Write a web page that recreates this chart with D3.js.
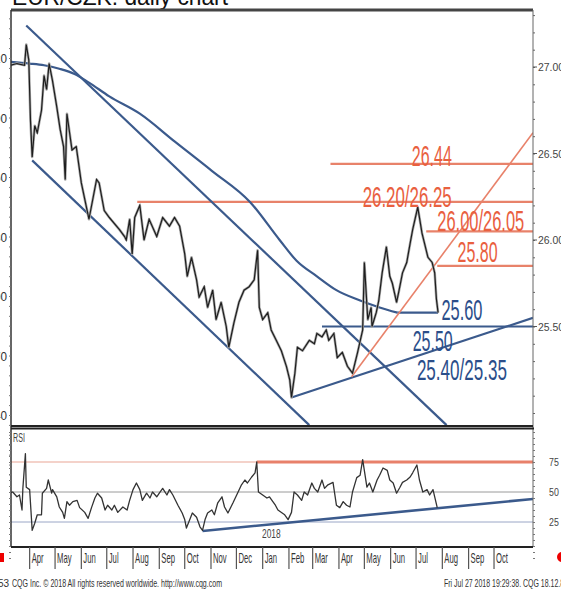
<!DOCTYPE html>
<html><head><meta charset="utf-8">
<script src="https://cdn.jsdelivr.net/npm/d3@7"></script>
<style>body{margin:0;background:#fff}svg{display:block}</style>
</head><body><svg id="c" width="561" height="593"></svg>
<script>
// ---------- DATA ----------
const title = "EUR/CZK: daily chart";
const monthLabels = ["Apr","May","Jun","Jul","Aug","Sep","Oct","Nov","Dec","Jan","Feb","Mar","Apr","May","Jun","Jul","Aug","Sep","Oct"];
const priceTicks = [27.0, 26.5, 26.0, 25.5];
const priceTickLabels = ["27.00","26.50","26.00","25.50"];
const leftTicks = [27.2, 26.9, 26.6, 26.3, 26.0, 25.7, 25.4];
const leftTickLabels = ["27.20","26.90","26.60","26.30","26.00","25.70","25.40"];
const rsiTicks = [75, 50, 25];
const rsiTickLabels = ["75","50","25"];

const price = [
["2017-03-09",27.01],["2017-03-17",27.02],["2017-03-26",27.01],["2017-03-28",27.13],["2017-03-31",27.04],
["2017-04-02",26.69],["2017-04-04",26.48],["2017-04-07",26.66],["2017-04-10",26.62],["2017-04-15",26.75],
["2017-04-18",26.95],["2017-04-21",26.87],["2017-04-24",27.02],["2017-04-28",26.92],["2017-05-03",26.77],
["2017-05-07",26.64],["2017-05-11",26.54],["2017-05-13",26.35],["2017-05-15",26.73],["2017-05-21",26.52],
["2017-05-26",26.54],["2017-06-01",26.33],["2017-06-07",26.19],["2017-06-10",26.12],["2017-06-19",26.35],
["2017-06-22",26.33],["2017-06-28",26.17],["2017-07-04",26.13],["2017-07-16",26.06],["2017-07-22",26.02],
["2017-07-24",26.00],["2017-07-28",26.12],["2017-07-31",25.92],["2017-08-03",26.13],["2017-08-09",26.20],
["2017-08-14",26.00],["2017-08-20",26.12],["2017-08-29",26.02],["2017-09-05",26.13],["2017-09-13",26.08],
["2017-09-19",26.13],["2017-09-25",26.08],["2017-10-01",25.92],["2017-10-04",25.79],["2017-10-09",25.90],
["2017-10-15",25.77],["2017-10-18",25.67],["2017-10-24",25.73],["2017-10-28",25.61],["2017-11-03",25.71],
["2017-11-07",25.54],["2017-11-13",25.64],["2017-11-19",25.50],["2017-11-22",25.38],["2017-11-28",25.52],
["2017-12-04",25.64],["2017-12-10",25.71],["2017-12-16",25.73],["2017-12-22",25.77],["2017-12-26",25.94],
["2017-12-28",25.61],["2018-01-01",25.54],["2018-01-07",25.58],["2018-01-11",25.48],["2018-01-17",25.42],
["2018-01-23",25.36],["2018-01-29",25.27],["2018-02-02",25.19],["2018-02-04",25.09],["2018-02-08",25.23],
["2018-02-11",25.38],["2018-02-17",25.36],["2018-02-25",25.42],["2018-03-03",25.40],["2018-03-06",25.46],
["2018-03-12",25.44],["2018-03-17",25.48],["2018-03-20",25.42],["2018-03-26",25.46],["2018-03-30",25.32],
["2018-04-05",25.35],["2018-04-11",25.27],["2018-04-17",25.23],["2018-04-23",25.35],["2018-04-29",25.48],
["2018-05-01",25.87],["2018-05-05",25.54],["2018-05-09",25.61],["2018-05-10",25.50],["2018-05-15",25.58],
["2018-05-18",25.65],["2018-05-22",25.81],["2018-05-27",25.96],["2018-05-31",25.79],["2018-06-03",25.75],
["2018-06-08",25.64],["2018-06-11",25.71],["2018-06-15",25.81],["2018-06-20",25.87],["2018-06-24",25.98],
["2018-06-27",26.06],["2018-07-03",26.19],["2018-07-08",26.04],["2018-07-11",25.98],["2018-07-15",25.90],
["2018-07-20",25.87],["2018-07-23",25.81],["2018-07-25",25.66],["2018-07-27",25.58]
];

const movingAvg = [
["2017-03-09",27.03],["2017-04-01",27.02],["2017-04-18",27.01],["2017-05-06",26.99],["2017-05-24",26.96],
["2017-06-10",26.91],["2017-07-04",26.83],["2017-08-09",26.73],["2017-09-19",26.57],["2017-11-02",26.40],
["2017-12-17",26.22],["2018-01-21",26.00],["2018-02-10",25.88],["2018-03-06",25.79],["2018-03-29",25.71],
["2018-04-26",25.65],["2018-05-19",25.61],["2018-06-09",25.58]
];

const rsi = [
["2017-03-08",49],["2017-03-12",50],["2017-03-17",46],["2017-03-20",47.5],["2017-03-23",35],["2017-03-24",53],
["2017-03-27",82],["2017-03-28",54],["2017-04-01",52],["2017-04-04",18],["2017-04-07",24],["2017-04-10",31],
["2017-04-15",31],["2017-04-16",49],["2017-04-21",53],["2017-04-23",60],["2017-04-27",49],["2017-04-28",52],
["2017-05-03",46],["2017-05-06",37.5],["2017-05-10",33],["2017-05-12",28],["2017-05-15",42],["2017-05-18",39],
["2017-05-22",42],["2017-05-27",43],["2017-05-30",37],["2017-06-05",33],["2017-06-09",28],["2017-06-13",37],
["2017-06-17",45],["2017-06-20",49],["2017-06-25",45],["2017-06-29",35],["2017-07-02",39],["2017-07-07",35],
["2017-07-10",39],["2017-07-14",33],["2017-07-20",37.5],["2017-07-25",35],["2017-07-28",43],["2017-08-01",52],
["2017-08-05",57.5],["2017-08-09",52],["2017-08-12",43],["2017-08-17",49],["2017-08-21",45],["2017-08-24",50],
["2017-08-29",46],["2017-09-01",49],["2017-09-05",53],["2017-09-10",47.5],["2017-09-13",52],["2017-09-17",47.5],
["2017-09-23",39],["2017-09-28",32.5],["2017-10-01",27],["2017-10-03",20],["2017-10-07",27],["2017-10-10",32.5],
["2017-10-15",29],["2017-10-19",21],["2017-10-22",18],["2017-10-25",27],["2017-10-28",32.5],["2017-11-02",35],
["2017-11-05",31],["2017-11-09",41],["2017-11-14",46],["2017-11-17",37.5],["2017-11-21",32.5],["2017-11-27",41],
["2017-12-03",50],["2017-12-07",56],["2017-12-11",60],["2017-12-14",57.5],["2017-12-19",62.5],["2017-12-23",66],
["2017-12-25",75],["2017-12-27",50],["2018-01-01",47.5],["2018-01-06",45],["2018-01-09",46],["2018-01-13",42],
["2018-01-16",39],["2018-01-19",35],["2018-01-24",32.5],["2018-01-27",31],["2018-01-31",27],["2018-02-04",33],
["2018-02-07",50],["2018-02-11",47.5],["2018-02-16",43],["2018-02-19",50],["2018-02-23",47.5],["2018-02-28",57.5],
["2018-03-03",53],["2018-03-07",50],["2018-03-12",60],["2018-03-15",53],["2018-03-19",56],["2018-03-25",58],
["2018-03-29",39],["2018-04-02",37],["2018-04-06",42],["2018-04-10",39],["2018-04-14",37.5],["2018-04-17",50],
["2018-04-22",62],["2018-04-26",64],["2018-04-29",77],["2018-05-04",54],["2018-05-07",57.5],["2018-05-11",50],
["2018-05-16",60],["2018-05-19",64],["2018-05-23",70],["2018-05-28",68],["2018-05-31",60],["2018-06-04",57.5],
["2018-06-08",49],["2018-06-12",54],["2018-06-15",58],["2018-06-20",60],["2018-06-24",62.5],["2018-06-27",66],
["2018-07-02",72.5],["2018-07-05",60],["2018-07-09",50],["2018-07-14",52],["2018-07-17",47.5],["2018-07-21",52],
["2018-07-23",46],["2018-07-26",37]
];

// trend lines [start, end]
const channelUpper = [["2017-03-28",27.24],["2018-08-06",24.93]];
const channelLower = [["2017-04-04",26.46],["2018-02-25",24.93]];
const supportLine  = [["2018-02-04",25.09],["2018-11-16",25.55]];
const redDiagonal  = [["2018-04-16",25.21],["2018-11-16",26.62]];
const rsiSupport   = [["2017-10-22",17.5],["2018-11-16",44.2]];
const rsiResistance= [["2017-12-25",75],["2018-11-16",75]];

// horizontal levels: [level, from, to]
const redLevels  = [[26.44,"2018-03-22","2018-11-16"],[26.22,"2017-08-06","2018-11-16"],[26.05,"2018-07-13","2018-11-16"],[25.85,"2018-07-26","2018-11-16"]];
const blueLevels = [[25.58,"2018-06-09","2018-07-27"],[25.50,"2018-03-12","2018-11-16"]];

// level labels: [text, date, level]
const redLabels  = [["26.44","2018-06-26",26.44],["26.20/26.25","2018-04-29",26.22],["26.00/26.05","2018-07-26",26.05],["25.80","2018-08-19",25.85]];
const blueLabels = [["25.60","2018-07-31",25.58],["25.50","2018-06-27",25.50],["25.40/25.35","2018-07-02",25.35]];

// ---------- DRAW ----------
const P = d3.timeParse("%Y-%m-%d");
const svg = d3.select("#c");
const L = 11, R = 533, T = 10, B = 426, RT = 429, RB = 547;
const x = d3.scaleTime().domain([P("2017-03-10"), P("2018-11-16")]).range([L, R]);
const y = d3.scaleLinear().domain([25.5, 27]).range([326.5, 67]);
const r = d3.scaleLinear().domain([25, 75]).range([522, 462]);
const yLeft = d3.scaleLinear().domain([27.2, 25.4]).range([58, 415]);

const RED = "#e8826a", REDT = "#e9603f", BLUE = "#3b5a8c", BLUET = "#2b4e8a";
const FONT = "'Liberation Sans', Arial, sans-serif";

const defs = svg.append("defs");
defs.append("clipPath").attr("id","cm").append("rect").attr("x",L).attr("y",T).attr("width",R-L).attr("height",B-T);
defs.append("clipPath").attr("id","cr").append("rect").attr("x",L).attr("y",RT).attr("width",R-L).attr("height",RB-RT);

function stext(g, px, py, s, size, sx, fill, anchor){
  return g.append("text").attr("transform",`translate(${px},${py}) scale(${sx},1)`)
    .attr("font-family",FONT).attr("font-size",size).attr("fill",fill)
    .attr("text-anchor",anchor||"start").text(s);
}

// title (cropped at top)
svg.append("text").attr("x",12).attr("y",5).attr("font-family",FONT).attr("font-size",24)
  .attr("textLength",216).attr("lengthAdjust","spacingAndGlyphs").attr("fill","#111").text(title);

// main panel
const gm = svg.append("g").attr("clip-path","url(#cm)");
const line2 = (arr, sc) => d3.line().x(d=>x(P(d[0]))).y(d=>sc(d[1]))(arr);

redLevels.forEach(d=>{
  gm.append("line").attr("x1",x(P(d[1]))).attr("x2",x(P(d[2]))).attr("y1",y(d[0])).attr("y2",y(d[0]))
    .attr("stroke",RED).attr("stroke-width",2.2);
});
blueLevels.forEach(d=>{
  gm.append("line").attr("x1",x(P(d[1]))).attr("x2",x(P(d[2]))).attr("y1",y(d[0])).attr("y2",y(d[0]))
    .attr("stroke",BLUE).attr("stroke-width",2.2);
});
[channelUpper, channelLower, supportLine].forEach(t=>{
  gm.append("path").attr("d",line2(t,y)).attr("stroke",BLUE).attr("stroke-width",2.2).attr("fill","none");
});
gm.append("path").attr("d",line2(redDiagonal,y)).attr("stroke",RED).attr("stroke-width",1.6).attr("fill","none");
gm.append("path").attr("d",d3.line().curve(d3.curveMonotoneX).x(d=>x(P(d[0]))).y(d=>y(d[1]))(movingAvg))
  .attr("stroke",BLUE).attr("stroke-width",2.2).attr("fill","none");
gm.append("path").attr("d",line2(price,y)).attr("stroke","#aaa").attr("stroke-width",2.6).attr("fill","none").attr("stroke-linejoin","round");
gm.append("path").attr("d",line2(price,y)).attr("stroke","#1e1e1e").attr("stroke-width",1.2).attr("fill","none");

const labelW = {"26.44":40,"26.20/26.25":89,"26.00/26.05":87,"25.80":40,"25.60":41,"25.50":40,"25.40/25.35":90};
const labelDy = {"26.44":2,"26.20/26.25":5,"26.00/26.05":0,"25.80":-4,"25.60":7,"25.50":24,"25.40/25.35":28};
function bigLabel(d, col){
  svg.append("text").attr("x",x(P(d[1]))).attr("y",y(d[2])+labelDy[d[0]])
    .attr("font-family",FONT).attr("font-size",30).attr("fill",col)
    .attr("textLength",labelW[d[0]]).attr("lengthAdjust","spacingAndGlyphs").text(d[0]);
}
redLabels.forEach(d=>bigLabel(d,REDT));
blueLabels.forEach(d=>bigLabel(d,BLUET));

// RSI panel
const gr = svg.append("g").attr("clip-path","url(#cr)");
gr.append("line").attr("x1",L).attr("x2",R).attr("y1",r(75)).attr("y2",r(75)).attr("stroke","#eaa595").attr("stroke-width",1.2);
gr.append("line").attr("x1",L).attr("x2",R).attr("y1",r(50)).attr("y2",r(50)).attr("stroke","#9a9a9a").attr("stroke-width",1);
gr.append("line").attr("x1",L).attr("x2",R).attr("y1",r(25)).attr("y2",r(25)).attr("stroke","#9aa6c6").attr("stroke-width",1);
gr.append("path").attr("d",line2(rsiResistance,r)).attr("stroke","#e8806a").attr("stroke-width",3.2).attr("fill","none");
gr.append("path").attr("d",line2(rsiSupport,r)).attr("stroke",BLUE).attr("stroke-width",2.6).attr("fill","none");
gr.append("path").attr("d",line2(rsi,r)).attr("stroke","#333").attr("stroke-width",1.3).attr("fill","none").attr("stroke-linejoin","round");
stext(svg, 13, 442, "RSI", 13, 0.55, "#444");
stext(svg, 262, 538, "2018", 12, 0.7, "#444");

// frames
svg.append("line").attr("x1",L).attr("x2",R).attr("y1",T).attr("y2",T).attr("stroke","#444").attr("stroke-width",3);
svg.append("line").attr("x1",L).attr("x2",L).attr("y1",T).attr("y2",RB).attr("stroke","#333").attr("stroke-width",1.5);
svg.append("line").attr("x1",R).attr("x2",R).attr("y1",T).attr("y2",RB).attr("stroke","#666").attr("stroke-width",1);
svg.append("line").attr("x1",L).attr("x2",R).attr("y1",B).attr("y2",B).attr("stroke","#222").attr("stroke-width",2);
svg.append("line").attr("x1",L).attr("x2",R+1).attr("y1",RT-0.5).attr("y2",RT-0.5).attr("stroke","#222").attr("stroke-width",2);
svg.append("line").attr("x1",L).attr("x2",R).attr("y1",RB).attr("y2",RB).attr("stroke","#222").attr("stroke-width",2);

// right price axis
const ra = svg.append("g").attr("transform",`translate(${R},0)`)
  .call(d3.axisRight(y).tickValues(d3.range(25.0,27.35,0.1)).tickSize(2).tickFormat(""));
ra.select(".domain").remove();
ra.selectAll("line").attr("stroke","#666");
priceTicks.forEach((v,i)=>{
  svg.append("line").attr("x1",R).attr("x2",R+4).attr("y1",y(v)).attr("y2",y(v)).attr("stroke","#555");
  stext(svg, R+5, y(v)+4, priceTickLabels[i], 11, 0.95, "#444");
});
// left axis
const la = svg.append("g").attr("transform",`translate(${L},0)`)
  .call(d3.axisLeft(yLeft).tickValues(d3.range(25.1,27.41,0.05)).tickSize(2).tickFormat(""));
la.select(".domain").remove();
la.selectAll("line").attr("stroke","#777");
leftTicks.forEach((v,i)=>{
  stext(svg, 7, yLeft(v)+5, leftTickLabels[i], 13, 0.9, "#333", "end");
});
// RSI axes
const rra = svg.append("g").attr("transform",`translate(${R},0)`)
  .call(d3.axisRight(r).tickValues(d3.range(-5,105,5)).tickSize(2).tickFormat(""));
rra.select(".domain").remove();
rra.selectAll("line").attr("stroke","#777");
rsiTicks.forEach((v,i)=>{ stext(svg, 549, r(v)+4, rsiTickLabels[i], 11, 0.8, "#444"); });
const rla = svg.append("g").attr("transform",`translate(${L},0)`)
  .call(d3.axisLeft(r).tickValues(d3.range(-5,105,5)).tickSize(2).tickFormat(""));
rla.select(".domain").remove();
rla.selectAll("line").attr("stroke","#777");

// month axis
const months = d3.timeMonth.range(P("2017-04-01"), P("2018-11-01"));
months.forEach((m,i)=>{
  const mx = x(m);
  svg.append("line").attr("x1",mx).attr("x2",mx).attr("y1",RB).attr("y2",569).attr("stroke","#555").attr("stroke-width",1.2);
  stext(svg, mx+2, 563, monthLabels[i], 14, 0.55, "#333");
});

// footer
svg.append("text").attr("x",12).attr("y",587).attr("font-family",FONT).attr("font-size",10)
  .attr("textLength",210).attr("lengthAdjust","spacingAndGlyphs").attr("fill","#333")
  .text("CQG Inc. © 2018 All rights reserved worldwide. http://www.cqg.com");
svg.append("text").attr("x",9).attr("y",587).attr("font-family",FONT).attr("font-size",10).attr("text-anchor","end")
  .attr("fill","#333").text("53");
svg.append("text").attr("x",444).attr("y",587).attr("font-family",FONT).attr("font-size",10)
  .attr("textLength",124).attr("lengthAdjust","spacingAndGlyphs").attr("fill","#333")
  .text("Fri Jul 27 2018 19:29:38. CQG 18.12.80");
svg.append("rect").attr("x",0).attr("y",553).attr("width",4).attr("height",9).attr("fill","#e00");
svg.append("circle").attr("cx",562).attr("cy",557).attr("r",5).attr("fill","#e00");
</script></body></html>
